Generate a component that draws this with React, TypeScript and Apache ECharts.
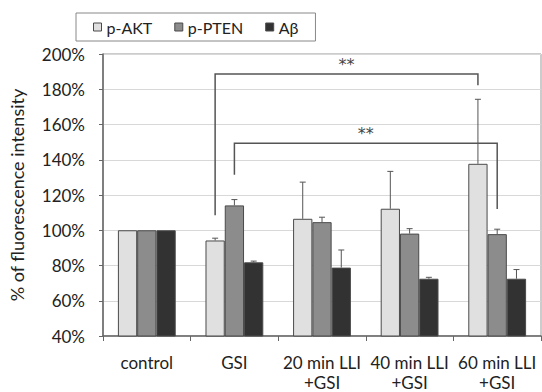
import React, { useEffect, useRef } from "react";
import * as echarts from "echarts";

const categories = ["control", "GSI", "20 min LLI\n+GSI", "40 min LLI\n+GSI", "60 min LLI\n+GSI"];
const seriesNames = ["p-AKT", "p-PTEN", "Aβ"];
const pAKT = [100, 94.2, 106.5, 112.2, 137.7];
const pAKTErr = [0, 1.3, 20.8, 21.2, 36.6];
const pPTEN = [100, 114.1, 104.6, 98.1, 97.8];
const pPTENErr = [0, 3.3, 2.8, 2.8, 2.8];
const abeta = [100, 81.8, 78.8, 72.5, 72.5];
const abetaErr = [0, 0.7, 10.0, 0.8, 5.2];
const yTicks = { min: 40, max: 200, interval: 20 };
// [leftCategory, leftSeries, rightCategory, rightSeries, leftBottom, top, rightBottom, labelY]
const brackets = [
  [1, 0, 4, 0, 108.5, 188.7, 182.2, 194.3],
  [1, 1, 4, 1, 131.5, 149.4, 112, 155.0],
];
const bracketLabel = "**";

const FONT = "Lato, 'Open Sans', sans-serif";
const colors = ["#e0e0e0", "#8c8c8c", "#323232"];
const GAP = 0.34;

export default function App() {
  const ref = useRef<HTMLDivElement>(null);
  useEffect(() => {
    if (!ref.current) return;
    const chart = echarts.init(ref.current, null, { renderer: "svg" });
    const values = [pAKT, pPTEN, abeta];
    const errs = [pAKTErr, pPTENErr, abetaErr];

    const barSeries = values.map((v, i) => ({
      name: seriesNames[i],
      type: "bar",
      data: v,
      barGap: "0%",
      barCategoryGap: GAP * 100 + "%",
      itemStyle: { color: colors[i], borderColor: "#4a4a4a", borderWidth: 1 },
      z: 2,
    }));

    const errSeries = values.map((v, i) => ({
      type: "custom",
      data: v.map((val, k) => [k, val, errs[i][k]]),
      z: 3,
      silent: true,
      renderItem: (params: any, api: any) => {
        const cat = api.value(0);
        const val = api.value(1);
        const err = api.value(2);
        if (!err) return null;
        const band = api.size([1, 0])[0];
        const bw = (band * (1 - GAP)) / 3;
        const base = api.coord([cat, val]);
        const top = api.coord([cat, val + err]);
        const x = base[0] + (i - 1) * bw;
        const style = { stroke: "#555", lineWidth: 1 };
        return {
          type: "group",
          children: [
            { type: "line", shape: { x1: x, y1: base[1], x2: x, y2: top[1] }, style },
            { type: "line", shape: { x1: x - 3, y1: top[1], x2: x + 3, y2: top[1] }, style },
          ],
        };
      },
    }));

    const bracketSeries = {
      type: "custom",
      data: brackets,
      encode: { x: 0, y: 5 },
      z: 4,
      silent: true,
      renderItem: (params: any, api: any) => {
        const lc = api.value(0), ls = api.value(1), rc = api.value(2), rs = api.value(3);
        const lb = api.value(4), tp = api.value(5), rb = api.value(6), ly = api.value(7);
        const band = api.size([1, 0])[0];
        const bw = (band * (1 - GAP)) / 3;
        const p1 = api.coord([lc, lb]);
        const p2 = api.coord([lc, tp]);
        const p3 = api.coord([rc, rb]);
        const pl = api.coord([lc, ly]);
        const x1 = p1[0] + (ls - 1) * bw;
        const x2 = p3[0] + (rs - 1) * bw;
        return {
          type: "group",
          children: [
            {
              type: "polyline",
              shape: { points: [[x1, p1[1]], [x1, p2[1]], [x2, p2[1]], [x2, p3[1]]] },
              style: { stroke: "#555", lineWidth: 1.5, fill: "none" },
            },
            {
              type: "text",
              x: (x1 + x2) / 2,
              y: pl[1],
              style: {
                text: bracketLabel,
                fontSize: 16,
                fontFamily: "'DejaVu Sans', sans-serif",
                fill: "#444",
                align: "center",
                verticalAlign: "middle",
              },
            },
          ],
        };
      },
    };

    chart.setOption({
      animation: false,
      textStyle: { fontFamily: FONT },
      legend: {
        data: seriesNames,
        left: 76,
        top: 13,
        orient: "horizontal",
        padding: [6, 17, 6, 17],
        itemWidth: 8,
        itemHeight: 8,
        itemGap: 22,
        borderColor: "#888",
        borderWidth: 1,
        backgroundColor: "#fff",
        textStyle: { fontSize: 16, color: "#222", fontFamily: FONT },
        icon: "rect",
        itemStyle: { borderColor: "#4a4a4a", borderWidth: 1 },
      },
      grid: {
        left: 101,
        right: 1,
        top: 54,
        bottom: 51,
        show: true,
        borderColor: "#999",
        borderWidth: 1,
        backgroundColor: "transparent",
      },
      xAxis: {
        type: "category",
        data: categories,
        axisLine: { lineStyle: { color: "#666", width: 1.5 } },
        axisTick: { show: true, alignWithLabel: false, length: 5, lineStyle: { color: "#666" } },
        axisLabel: {
          interval: 0,
          fontSize: 17,
          lineHeight: 20,
          color: "#222",
          margin: 16,
          fontFamily: FONT,
        },
      },
      yAxis: {
        type: "value",
        min: yTicks.min,
        max: yTicks.max,
        interval: yTicks.interval,
        name: "% of fluorescence intensity",
        nameLocation: "middle",
        nameGap: 77,
        nameTextStyle: { fontSize: 18, color: "#222", fontFamily: FONT },
        axisLine: { show: true, lineStyle: { color: "#666", width: 1.5 } },
        axisTick: { show: true, length: 4, lineStyle: { color: "#666" } },
        axisLabel: { formatter: "{value}%", fontSize: 17, color: "#222", margin: 18, fontFamily: FONT },
        splitLine: { lineStyle: { color: "#d8d8d8", width: 1 } },
      },
      series: [...barSeries, ...errSeries, bracketSeries],
    });
    return () => chart.dispose();
  }, []);
  return <div ref={ref} style={{ width: 542, height: 392, position: "absolute", left: 0, top: 0 }} />;
}
